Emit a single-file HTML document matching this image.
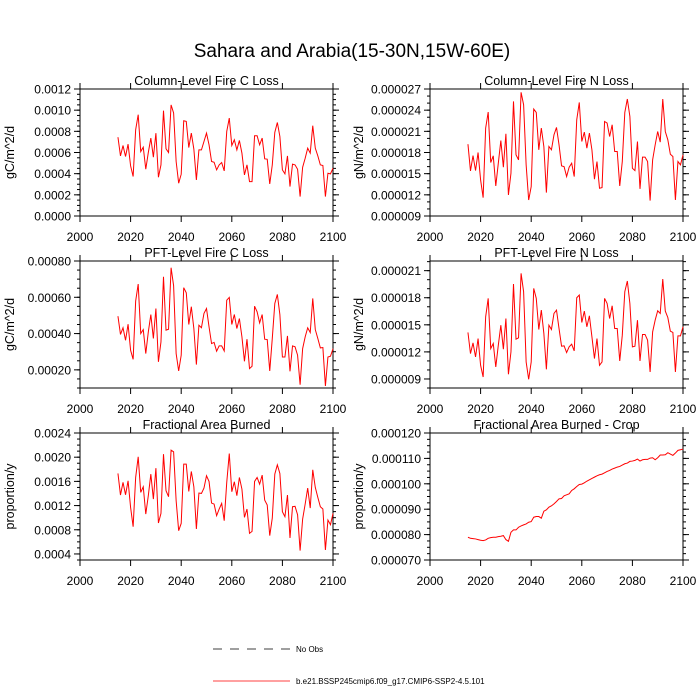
<!DOCTYPE html>
<html><head><meta charset="utf-8">
<style>
html,body{margin:0;padding:0;background:#fff;}
svg{display:block;font-family:"Liberation Sans",sans-serif;}
</style></head>
<body>
<svg id="chart" width="700" height="700" viewBox="0 0 700 700">
<text x="352" y="57" text-anchor="middle" font-size="19">Sahara and Arabia(15-30N,15W-60E)</text>
<g>
<line x1="213" y1="649" x2="290" y2="649" stroke="#000" stroke-width="0.8" stroke-dasharray="9,8"/>
<text x="296" y="652" font-size="8">No Obs</text>
<line x1="213" y1="681" x2="290" y2="681" stroke="#ff0000" stroke-width="0.8"/>
<text x="296" y="684" font-size="8">b.e21.BSSP245cmip6.f09_g17.CMIP6-SSP2-4.5.101</text>
</g>
</svg>
<script>
// years 2015..2100
const startYear = 2015;
const xTicks = [2000, 2020, 2040, 2060, 2080, 2100];

const colCLoss = [7.45,5.68,6.66,5.62,6.79,4.74,3.73,8.15,9.57,6.09,6.50,4.42,6.00,7.36,5.56,7.83,3.66,4.83,9.95,6.35,6.00,10.5,9.73,5.15,3.10,3.95,9.00,8.94,6.47,7.83,6.32,3.41,6.25,6.25,7.04,7.83,6.73,5.15,5.08,4.36,4.83,5.05,4.26,7.99,9.25,6.66,7.20,6.25,7.14,5.94,3.88,4.83,3.25,3.25,7.58,7.58,6.73,7.36,5.40,5.37,3.03,4.83,7.90,8.84,7.52,4.36,3.98,5.68,2.78,4.90,4.83,4.42,1.83,4.61,5.46,6.41,5.94,8.53,6.41,5.68,4.83,4.77,1.83,4.04,3.98,4.52]; // x1e-4
const colNLoss = [19.18,15.39,17.57,15.44,18.0,14.12,11.6,21.46,23.73,16.58,17.53,13.26,16.48,19.7,15.92,20.65,11.98,15.06,25.25,17.67,16.96,26.53,24.77,16.25,11.27,13.17,24.16,23.68,18.38,21.46,18.85,12.32,18.85,18.38,20.5,21.55,19.09,16.1,16.0,14.59,15.92,16.48,14.59,22.64,25.1,19.56,20.89,18.62,20.75,18.38,14.21,16.72,12.93,13.03,22.4,22.17,20.27,21.93,18.14,18.14,13.26,16.72,23.68,25.58,23.12,15.77,15.44,19.56,12.84,17.34,17.34,16.72,11.18,16.96,19.09,20.98,19.47,25.58,20.98,19.8,17.76,17.43,11.27,16.72,16.25,17.67]; // x1e-6
const pftCLoss = [4.96,3.95,4.32,3.63,4.52,3.08,2.58,5.79,6.73,4.00,4.22,2.90,4.09,5.05,3.73,5.38,2.44,3.54,7.13,4.19,4.24,7.63,6.64,2.90,1.94,2.81,6.53,6.25,4.50,5.48,4.28,2.29,4.46,4.32,5.11,5.38,4.37,3.45,3.51,3.03,3.32,3.32,3.04,5.84,5.99,4.50,5.05,4.28,4.83,3.82,2.47,3.69,2.07,2.20,5.51,5.20,4.59,5.05,3.69,3.67,1.94,3.73,5.66,6.16,5.05,2.71,2.71,3.87,1.92,3.32,3.27,2.81,1.18,3.17,3.82,4.32,4.06,5.94,4.22,3.73,3.21,3.23,1.11,2.71,2.75,3.17]; // x1e-4
const pftNLoss = [14.15,11.81,13.0,11.44,13.48,10.52,9.22,15.89,17.93,12.37,12.93,10.33,12.74,14.96,12.30,15.70,9.52,12.0,19.52,13.41,13.56,20.70,18.67,10.89,8.96,10.89,19.04,17.93,14.48,16.63,14.04,10.07,14.96,14.48,16.26,16.63,14.59,12.63,12.67,11.93,12.56,12.85,12.11,18.0,18.30,15.26,16.52,14.78,16.0,13.67,11.26,13.48,10.52,10.89,17.93,17.37,15.70,17.11,14.59,14.59,11.0,13.85,18.67,19.85,17.37,12.56,12.63,15.52,11.0,13.93,13.93,13.30,9.78,14.22,15.52,16.56,16.26,20.07,16.52,15.81,14.30,14.15,9.78,13.78,13.78,14.78]; // x1e-6
const areaBurned = [17.31,13.74,15.83,13.79,16.1,11.7,8.51,16.65,20.06,14.18,15.11,10.6,13.63,17.2,13.08,18.19,9.12,10.71,20.5,14.45,13.46,21.16,20.89,12.8,7.85,9.06,18.85,18.85,14.34,17.64,15.11,8.13,14.07,14.01,14.89,16.93,15.99,12.42,12.25,10.33,11.43,12.36,9.5,15.83,20.61,14.29,15.94,13.63,16.65,14.73,10.05,11.43,7.41,7.74,15.99,16.65,15.55,17.04,12.91,12.09,7.03,9.94,17.2,18.74,17.31,10.99,10.16,13.74,6.64,11.81,11.87,10.49,4.55,9.78,12.25,14.89,11.59,17.92,15.0,13.35,11.81,11.43,4.66,9.61,8.84,10.71]; // x1e-4
const areaBurnedCrop = [78.95,78.55,78.42,78.29,78.03,77.76,77.63,77.90,78.55,78.82,78.95,78.95,79.21,79.34,79.61,78.03,77.37,80.92,81.84,81.84,82.9,83.42,83.82,84.21,84.87,85.13,86.84,87.11,87.11,86.45,89.21,89.74,90.79,91.32,92.11,93.03,94.08,94.21,95.26,95.66,96.05,97.37,98.03,98.95,99.74,99.87,100.39,101.05,101.58,102.11,102.63,103.16,103.55,103.82,104.34,104.87,105.26,105.79,106.18,106.58,106.84,107.37,107.89,108.16,108.82,108.95,109.21,109.74,108.95,109.47,109.61,109.61,110.13,110.26,109.47,110.26,111.32,111.32,111.45,112.24,111.71,111.18,112.11,113.16,113.42,113.68]; // x1e-6

const p1Ticks = ["0.0000","0.0002","0.0004","0.0006","0.0008","0.0010","0.0012"];
const p2Ticks = ["0.000009","0.000012","0.000015","0.000018","0.000021","0.000024","0.000027"];
const p3Ticks = ["0.00020","0.00040","0.00060","0.00080"];
const p4Ticks = ["0.000009","0.000012","0.000015","0.000018","0.000021"];
const p5Ticks = ["0.0004","0.0008","0.0012","0.0016","0.0020","0.0024"];
const p6Ticks = ["0.000070","0.000080","0.000090","0.000100","0.000110","0.000120"];

const NS = "http://www.w3.org/2000/svg";
const svg = document.getElementById("chart");
function mk(tag, attrs, parent){
  const e = document.createElementNS(NS, tag);
  for (const k in attrs) e.setAttribute(k, attrs[k]);
  (parent||svg).appendChild(e);
  return e;
}

function panel(o){
  const g = mk("g", {});
  
  
  const L=o.x, R=o.x+253, T=o.y, B=o.y+127;
  const xs = v => L + (v-2000)/100*(R-L);
  const ys = v => B - (v-o.min)/(o.max-o.min)*(B-T);
  const frame = mk("rect", {x:L,y:T,width:R-L,height:B-T,fill:"none",stroke:"#000","stroke-width":1}, g);
  
  
  // x ticks
  xTicks.forEach(t=>{
    const x=xs(t);
    mk("line",{x1:x,y1:B,x2:x,y2:B+6,stroke:"#000","stroke-width":1},g);
    mk("line",{x1:x,y1:T,x2:x,y2:T-6,stroke:"#000","stroke-width":1},g);
    const lb = mk("text",{x:x,y:B+25,"text-anchor":"middle","font-size":12},g);
    lb.textContent = t;
    
    
  });
  // y minor ticks
  for (let v=o.min; v<=o.max+1e-9; v+=o.minor){
    const y=ys(v);
    mk("line",{x1:L,y1:y,x2:L-3,y2:y,stroke:"#000","stroke-width":1},g);
    mk("line",{x1:R,y1:y,x2:R+3,y2:y,stroke:"#000","stroke-width":1},g);
  }
  o.ticks.forEach(s=>{
    const v = parseFloat(s)*o.scale;
    const y=ys(v);
    mk("line",{x1:L,y1:y,x2:L-6,y2:y,stroke:"#000","stroke-width":1},g);
    mk("line",{x1:R,y1:y,x2:R+6,y2:y,stroke:"#000","stroke-width":1},g);
    const lb = mk("text",{x:L-9,y:y+4.5,"text-anchor":"end","font-size":12},g);
    lb.textContent = s;
    
    
  });
  const tt = mk("text",{x:(L+R)/2,y:T-4,"text-anchor":"middle","font-size":12.5},g);
  tt.textContent = o.title;
  
  
  const yt = mk("text",{x:0,y:0,"text-anchor":"middle","font-size":12.5,transform:`translate(${L-o.ytOff},${(T+B)/2}) rotate(-90)`},g);
  yt.textContent = o.ytitle;
  
  
  const pts = o.data.map((v,i)=>xs(startYear+i).toFixed(2)+","+ys(v).toFixed(2)).join(" ");
  const pl = mk("polyline",{points:pts,fill:"none",stroke:"#ff0000","stroke-width":1},g);
  
  
}

panel({name:"panel-column-c-loss",x:80,y:89,min:0,max:12,minor:0.5,scale:1e4,ticks:p1Ticks,data:colCLoss,title:"Column-Level Fire C Loss",ytitle:"gC/m^2/d",ytOff:66});
panel({name:"panel-column-n-loss",x:430,y:89,min:9,max:27,minor:1,scale:1e6,ticks:p2Ticks,data:colNLoss,title:"Column-Level Fire N Loss",ytitle:"gN/m^2/d",ytOff:67});
panel({name:"panel-pft-c-loss",x:80,y:261,min:1,max:8,minor:0.5,scale:1e4,ticks:p3Ticks,data:pftCLoss,title:"PFT-Level Fire C Loss",ytitle:"gC/m^2/d",ytOff:66});
panel({name:"panel-pft-n-loss",x:430,y:261,min:8,max:22.07,minor:1,scale:1e6,ticks:p4Ticks,data:pftNLoss,title:"PFT-Level Fire N Loss",ytitle:"gN/m^2/d",ytOff:67});
panel({name:"panel-area-burned",x:80,y:433,min:3,max:24,minor:1,scale:1e4,ticks:p5Ticks,data:areaBurned,title:"Fractional Area Burned",ytitle:"proportion/y",ytOff:66});
panel({name:"panel-area-burned-crop",x:430,y:433,min:70,max:120,minor:2.5,scale:1e6,ticks:p6Ticks,data:areaBurnedCrop,title:"Fractional Area Burned - Crop",ytitle:"proportion/y",ytOff:67});
</script>
</body></html>
